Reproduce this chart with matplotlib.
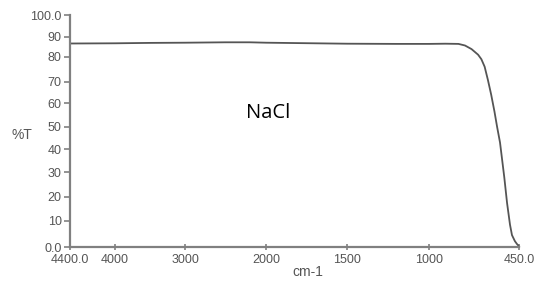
import numpy as np
import matplotlib
matplotlib.use("Agg")
import matplotlib.pyplot as plt

# transmission spectrum of NaCl window
wavenumber = [4400, 4000, 3500, 3000, 2500, 2200, 2000, 1800, 1500, 1200, 1000,
              900, 820, 780, 740, 700, 680, 660, 640, 620, 600, 584, 566, 540,
              523, 505, 493, 475, 462, 456, 450]
transmittance = [86.6, 86.7, 86.9, 87.0, 87.2, 87.2, 87.0, 86.8, 86.5, 86.4, 86.4,
                 86.5, 86.4, 85.6, 83.8, 81.0, 79.0, 76.0, 70.7, 64.0, 56.5, 50.0, 43.0, 28.0,
                 17.4, 8.5, 4.6, 2.3, 1.2, 0.8, 0.3]

x_ticks = [4400, 4000, 3000, 2000, 1500, 1000, 450]
x_tick_labels = ["4400.0", "4000", "3000", "2000", "1500", "1000", "450.0"]
y_ticks = [0, 10, 20, 30, 40, 50, 60, 70, 80, 90, 100]
y_tick_labels = ["0.0", "10", "20", "30", "40", "50", "60", "70", "80", "90", "100.0"]

# the printed axes are not evenly spaced: where each tick sits (pixels)
x_tick_px = [70, 114.7, 185, 266, 347, 429, 519]
y_tick_px = [247.3, 220.7, 196.7, 172.3, 149.3, 126.7, 103.3, 81.7, 56.7, 36.7, 15]


def piecewise(src, dst):
    src = np.asarray(src, float)
    dst = np.asarray(dst, float)

    def f(v):
        v = np.asarray(v, float)
        out = np.interp(v, src, dst)
        lo = v < src[0]
        hi = v > src[-1]
        s0 = (dst[1] - dst[0]) / (src[1] - src[0])
        s1 = (dst[-1] - dst[-2]) / (src[-1] - src[-2])
        out = np.where(lo, dst[0] + (v - src[0]) * s0, out)
        out = np.where(hi, dst[-1] + (v - src[-1]) * s1, out)
        return out
    return f


# x: increasing in wavenumber (axis is then inverted via limits)
xs = x_ticks[::-1]
xd = [519 - p for p in x_tick_px[::-1]]
x_fwd = piecewise(xs, xd)
x_inv = piecewise(xd, xs)

yd = [247.3 - p for p in y_tick_px]
y_fwd = piecewise(y_ticks, yd)
y_inv = piecewise(yd, y_ticks)

W, H = 536, 282
fig = plt.figure(figsize=(W / 100, H / 100), dpi=100)
ax = fig.add_axes([70 / W, 1 - 247.3 / H, (519 - 70) / W, (247.3 - 15) / H])

ax.set_xscale("function", functions=(x_fwd, x_inv))
ax.set_yscale("function", functions=(y_fwd, y_inv))

ax.plot(wavenumber, transmittance, color="#555555", lw=1.3, clip_on=False)

ax.set_xlim(4400, 450)
ax.set_ylim(0, 100)

ax.set_xticks(x_ticks)
ax.set_xticklabels(x_tick_labels)
ax.set_yticks(y_ticks)
ax.set_yticklabels(y_tick_labels)
ax.minorticks_off()

for s in ["top", "right"]:
    ax.spines[s].set_visible(False)
for s in ["left", "bottom"]:
    ax.spines[s].set_color("#808080")
    ax.spines[s].set_linewidth(1.6)

ax.tick_params(axis="y", direction="out", length=4, width=1.2, color="#808080",
               labelsize=9, labelcolor="#555555", pad=2)
ax.tick_params(axis="x", direction="inout", length=4, width=1.2, color="#808080",
               labelsize=9, labelcolor="#555555", pad=3)
for lab in ax.get_xticklabels() + ax.get_yticklabels():
    lab.set_fontfamily("Liberation Sans")

fig.text(22 / W, 1 - 135 / H, "%T", ha="center", va="center", fontsize=10,
         color="#555555", family="Liberation Sans")
fig.text(308 / W, 1 - 272 / H, "cm-1", ha="center", va="center", fontsize=10,
         color="#555555", family="Liberation Sans")
fig.text(268 / W, 1 - 113 / H, "NaCl", ha="center", va="center", fontsize=14.5,
         color="black", family="Open Sans")

fig.savefig("out.png", dpi=100)
